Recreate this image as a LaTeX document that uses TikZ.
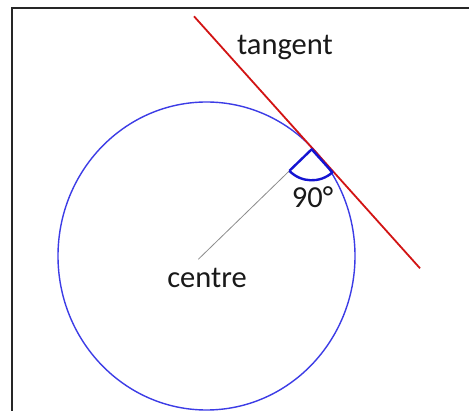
\documentclass[tikz,border=0pt]{standalone}
\usepackage{fontspec}
\setmainfont{Carlito}
\usetikzlibrary{calc}
\begin{document}
\begin{tikzpicture}[x=1pt,y=-1pt,
  frameline/.style={draw=black!85,line width=1.4pt},
  circline/.style={draw={rgb,255:red,60;green,60;blue,230},line width=1.4pt},
  tanline/.style={draw={rgb,255:red,210;green,20;blue,20},line width=1.8pt},
  radline/.style={draw=black!45,line width=0.8pt},
  angmark/.style={draw={rgb,255:red,20;green,20;blue,210},line width=2.4pt,line join=round},
  lbl/.style={font=\fontsize{30.5}{36}\selectfont,inner sep=0pt,anchor=base,text=black!90}]
\useasboundingbox (0,0) rectangle (469,411);
\fill[white] (0,0) rectangle (469,411);
\draw[frameline] (12,412) -- (12,8) -- (470,8);
\coordinate (C) at (206.5,256);
\draw[circline] (C) ellipse [x radius=148.5, y radius=154];
\coordinate (T1) at (194,16.3);
\coordinate (T2) at (420,268.3);
\draw[tanline] (T1) -- (T2);
\coordinate (V) at (311.7,149.3);
\coordinate (R1) at (198.3,259.3);
\coordinate (R2) at ($(V)+(136:31)$);
\draw[radline] (R1) -- (R2);
\draw[angmark] (V) ++(136:31) -- (V) -- ++(48:31) arc[start angle=48,end angle=136,radius=31];
\node[lbl] (tang) at (285,55) {tangent};
\node[lbl] (cen) at (207,288) {centre};
\node[lbl] (deg) at (312.5,208) {90°};
\end{tikzpicture}
\end{document}
